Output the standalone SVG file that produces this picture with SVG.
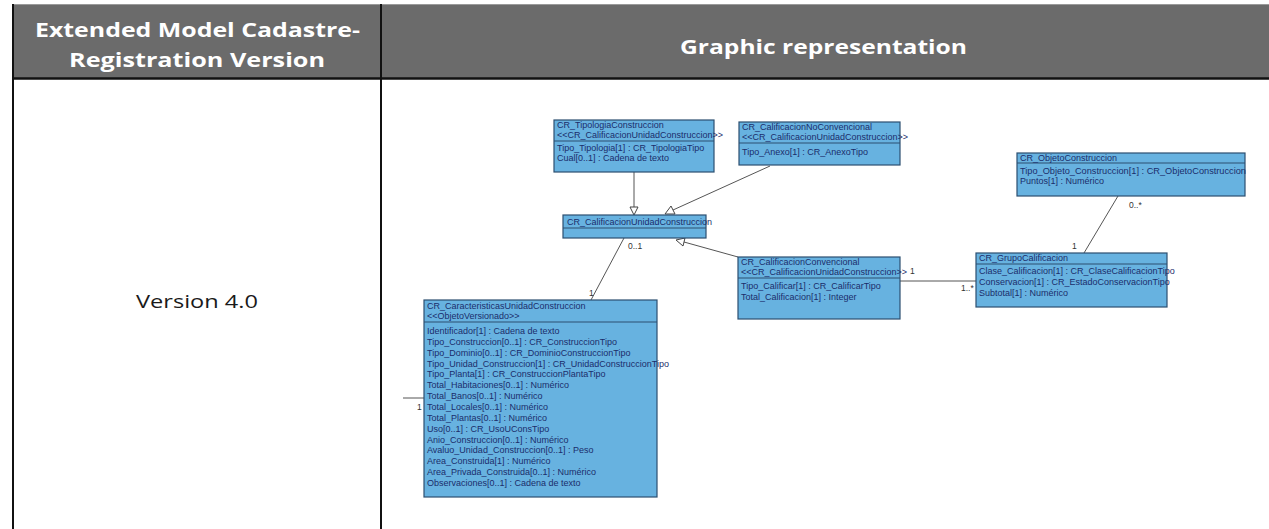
<svg xmlns="http://www.w3.org/2000/svg" width="1269" height="529" viewBox="0 0 1269 529">
  <style>
    .hdr { font-family: "Open Sans", "Liberation Sans", sans-serif; font-weight: 700; font-size: 20px; fill: #ffffff; }
    .cell { font-family: "Open Sans", "Liberation Sans", sans-serif; font-size: 18px; fill: #1a1a1a; }
    .box { fill: #67b2e0; stroke: #2c4f70; stroke-width: 1.2; }
    .sep { stroke: #2c4f70; stroke-width: 1; }
    .t { font-family: "Liberation Sans", Arial, sans-serif; font-size: 9px; fill: #1b2d6b; }
    .lbl { font-family: "Liberation Sans", Arial, sans-serif; font-size: 8.5px; fill: #333333; }
    .ln { stroke: #555555; stroke-width: 1; fill: none; }
    .gen { fill: #ffffff; stroke: #444444; stroke-width: 1; }
  </style>

  <!-- table frame -->
  <rect x="0" y="0" width="1269" height="529" fill="#ffffff"/>
  <rect x="12" y="4" width="1257" height="74" fill="#6b6b6b"/>
  <line x1="12" y1="4.5" x2="1269" y2="4.5" stroke="#9a9a9a" stroke-width="1"/>
  <line x1="12" y1="78.5" x2="1269" y2="78.5" stroke="#111111" stroke-width="2.5"/>
  <line x1="13" y1="4" x2="13" y2="529" stroke="#111111" stroke-width="2"/>
  <line x1="381" y1="4" x2="381" y2="529" stroke="#111111" stroke-width="2"/>

  <!-- header and first column texts -->
  <text class="hdr" x="35" y="37" textLength="325" lengthAdjust="spacingAndGlyphs">Extended Model Cadastre-</text>
  <text class="hdr" x="69" y="67" textLength="256" lengthAdjust="spacingAndGlyphs">Registration Version</text>
  <text class="hdr" x="680" y="54" textLength="287" lengthAdjust="spacingAndGlyphs">Graphic representation</text>
  <text class="cell" x="136" y="308" textLength="122" lengthAdjust="spacingAndGlyphs">Version 4.0</text>

  <!-- connectors -->
  <g id="connectors">
    <line class="ln" x1="634" y1="172" x2="634" y2="207"/>
    <polygon class="gen" points="634,215 630,207 638,207"/>
    <line class="ln" x1="770" y1="166" x2="673" y2="210"/>
    <polygon class="gen" points="665,214 671,206 675,214"/>
    <line class="ln" x1="738" y1="257" x2="684" y2="242"/>
    <polygon class="gen" points="676,240 685,238 683,246"/>
    <line class="ln" x1="624" y1="238" x2="591" y2="300"/>
    <text class="lbl" x="628" y="249">0..1</text>
    <text class="lbl" x="589" y="296">1</text>
    <line class="ln" x1="900" y1="281" x2="976" y2="281"/>
    <text class="lbl" x="910" y="274">1</text>
    <text class="lbl" x="961" y="291">1..*</text>
    <line class="ln" x1="1118" y1="196" x2="1084" y2="253"/>
    <text class="lbl" x="1129" y="208">0..*</text>
    <text class="lbl" x="1072" y="249">1</text>
    <line class="ln" x1="403" y1="398" x2="424" y2="398"/>
    <text class="lbl" x="417" y="410">1</text>
  </g>

  <!-- classes -->
  <g id="cr-tipologia-construccion">
    <rect class="box" x="554" y="120" width="160" height="52"/>
    <line class="sep" x1="554" y1="141" x2="714" y2="141"/>
    <text class="t" x="557" y="128">CR_TipologiaConstruccion</text>
    <text class="t" x="557" y="138">&lt;&lt;CR_CalificacionUnidadConstruccion&gt;&gt;</text>
    <text class="t" x="557" y="151">Tipo_Tipologia[1] : CR_TipologiaTipo</text>
    <text class="t" x="557" y="161">Cual[0..1] : Cadena de texto</text>
  </g>

  <g id="cr-calificacion-no-convencional">
    <rect class="box" x="739" y="122" width="161" height="43"/>
    <line class="sep" x1="739" y1="143" x2="900" y2="143"/>
    <text class="t" x="742" y="130">CR_CalificacionNoConvencional</text>
    <text class="t" x="742" y="140">&lt;&lt;CR_CalificacionUnidadConstruccion&gt;&gt;</text>
    <text class="t" x="742" y="155">Tipo_Anexo[1] : CR_AnexoTipo</text>
  </g>

  <g id="cr-objeto-construccion">
    <rect class="box" x="1017" y="153" width="228" height="43"/>
    <line class="sep" x1="1017" y1="163" x2="1245" y2="163"/>
    <text class="t" x="1020" y="161">CR_ObjetoConstruccion</text>
    <text class="t" x="1020" y="174" textLength="226" lengthAdjust="spacingAndGlyphs">Tipo_Objeto_Construccion[1] : CR_ObjetoConstruccion</text>
    <text class="t" x="1020" y="184">Puntos[1] : Numérico</text>
  </g>

  <g id="cr-calificacion-unidad-construccion">
    <rect class="box" x="563" y="215" width="143" height="23"/>
    <line class="sep" x1="563" y1="228" x2="706" y2="228"/>
    <text class="t" x="567" y="225">CR_CalificacionUnidadConstruccion</text>
  </g>

  <g id="cr-calificacion-convencional">
    <rect class="box" x="738" y="257" width="162" height="62"/>
    <line class="sep" x1="738" y1="278" x2="900" y2="278"/>
    <text class="t" x="741" y="265">CR_CalificacionConvencional</text>
    <text class="t" x="741" y="275">&lt;&lt;CR_CalificacionUnidadConstruccion&gt;&gt;</text>
    <text class="t" x="741" y="289">Tipo_Calificar[1] : CR_CalificarTipo</text>
    <text class="t" x="741" y="300">Total_Calificacion[1] : Integer</text>
  </g>

  <g id="cr-grupo-calificacion">
    <rect class="box" x="976" y="253" width="191" height="54"/>
    <line class="sep" x1="976" y1="264" x2="1167" y2="264"/>
    <text class="t" x="979" y="261">CR_GrupoCalificacion</text>
    <text class="t" x="979" y="274">Clase_Calificacion[1] : CR_ClaseCalificacionTipo</text>
    <text class="t" x="979" y="285">Conservacion[1] : CR_EstadoConservacionTipo</text>
    <text class="t" x="979" y="296">Subtotal[1] : Numérico</text>
  </g>

  <g id="cr-caracteristicas-unidad-construccion">
    <rect class="box" x="424" y="300" width="233" height="197"/>
    <line class="sep" x1="424" y1="322" x2="657" y2="322"/>
    <text class="t" x="427" y="309">CR_CaracteristicasUnidadConstruccion</text>
    <text class="t" x="427" y="319">&lt;&lt;ObjetoVersionado&gt;&gt;</text>
    <text class="t" x="427" y="334">Identificador[1] : Cadena de texto</text>
    <text class="t" x="427" y="344.9">Tipo_Construccion[0..1] : CR_ConstruccionTipo</text>
    <text class="t" x="427" y="355.7">Tipo_Dominio[0..1] : CR_DominioConstruccionTipo</text>
    <text class="t" x="427" y="366.6">Tipo_Unidad_Construccion[1] : CR_UnidadConstruccionTipo</text>
    <text class="t" x="427" y="377.4">Tipo_Planta[1] : CR_ConstruccionPlantaTipo</text>
    <text class="t" x="427" y="388.3">Total_Habitaciones[0..1] : Numérico</text>
    <text class="t" x="427" y="399.1">Total_Banos[0..1] : Numérico</text>
    <text class="t" x="427" y="410">Total_Locales[0..1] : Numérico</text>
    <text class="t" x="427" y="420.8">Total_Plantas[0..1] : Numérico</text>
    <text class="t" x="427" y="431.7">Uso[0..1] : CR_UsoUConsTipo</text>
    <text class="t" x="427" y="442.5">Anio_Construccion[0..1] : Numérico</text>
    <text class="t" x="427" y="453.4">Avaluo_Unidad_Construccion[0..1] : Peso</text>
    <text class="t" x="427" y="464.2">Area_Construida[1] : Numérico</text>
    <text class="t" x="427" y="475.1">Area_Privada_Construida[0..1] : Numérico</text>
    <text class="t" x="427" y="486">Observaciones[0..1] : Cadena de texto</text>
  </g>
</svg>
